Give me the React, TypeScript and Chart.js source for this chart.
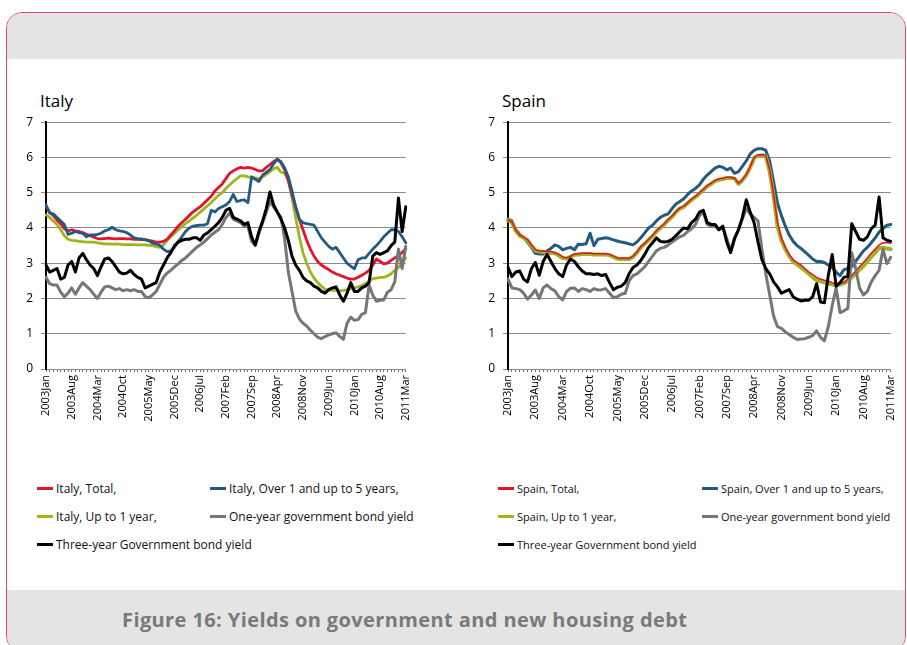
import React, { useEffect, useRef } from "react";
import { Chart, registerables } from "chart.js";

Chart.register(...registerables);

// ---------- categories ----------
const MONTH_NAMES = ["Jan", "Feb", "Mar", "Apr", "May", "Jun", "Jul", "Aug", "Sep", "Oct", "Nov", "Dec"];
const START_YEAR = 2003;
const MONTH_COUNT = 99; // 2003Jan .. 2011Mar
const categories: string[] = Array.from(
  { length: MONTH_COUNT },
  (_, i) => `${START_YEAR + Math.floor(i / 12)}${MONTH_NAMES[i % 12]}`
);
const LABEL_STEP = 7;
const Y_MIN = 0;
const Y_MAX = 7;
const Y_STEP = 1;

// ---------- Italy ----------
const italyTotal = [
  4.6, 4.45, 4.35, 4.22, 4.12, 3.98, 3.92, 3.95, 3.92, 3.9,
  3.87, 3.82, 3.78, 3.74, 3.7, 3.69, 3.7, 3.71, 3.7, 3.69,
  3.7, 3.7, 3.69, 3.69, 3.68, 3.68, 3.67, 3.67, 3.65, 3.63,
  3.6, 3.6, 3.62, 3.68, 3.8, 3.92, 4.05, 4.15, 4.25, 4.35,
  4.45, 4.53, 4.6, 4.7, 4.8, 4.9, 5.05, 5.15, 5.25, 5.4,
  5.55, 5.62, 5.68, 5.72, 5.7, 5.72, 5.7, 5.66, 5.62, 5.62,
  5.72, 5.8, 5.88, 5.95, 5.85, 5.65, 5.35, 4.95, 4.6, 4.25,
  3.95, 3.65, 3.4, 3.2, 3.05, 2.95, 2.88, 2.82, 2.75, 2.7,
  2.66, 2.62, 2.58, 2.55, 2.55, 2.6, 2.66, 2.72, 2.8, 2.95,
  3.12, 3.05, 2.98, 3.0, 3.08, 3.15, 3.22, 3.3, 3.42,
];
const italyOver1 = [
  4.65, 4.42, 4.4, 4.3, 4.2, 4.1, 3.82, 3.85, 3.9, 3.87,
  3.85, 3.75, 3.8, 3.8, 3.82, 3.85, 3.92, 3.95, 4.02, 3.95,
  3.92, 3.9, 3.87, 3.8, 3.72, 3.7, 3.69, 3.66, 3.64, 3.57,
  3.55, 3.5, 3.4, 3.33, 3.35, 3.45, 3.62, 3.75, 3.9, 4.0,
  4.05, 4.07, 4.08, 4.08, 4.12, 4.5, 4.45, 4.55, 4.6, 4.65,
  4.75, 4.95, 4.75, 4.78, 4.8, 4.72, 5.45, 5.38, 5.32, 5.5,
  5.58, 5.66, 5.82, 5.95, 5.88, 5.7, 5.45, 5.05, 4.6, 4.25,
  4.15, 4.12, 4.1, 4.08, 3.9, 3.72, 3.6, 3.48, 3.4, 3.45,
  3.3, 3.15, 3.0, 2.92, 2.84, 3.1, 3.15, 3.15, 3.28, 3.4,
  3.5, 3.62, 3.75, 3.85, 3.95, 3.95, 3.9, 3.75, 3.58,
];
const italyUpTo1 = [
  4.37, 4.3, 4.2, 4.1, 3.95, 3.78, 3.68, 3.65, 3.64, 3.62,
  3.61, 3.6, 3.6, 3.6, 3.58, 3.56, 3.55, 3.55, 3.54, 3.55,
  3.54, 3.53, 3.53, 3.53, 3.53, 3.52, 3.52, 3.52, 3.51, 3.5,
  3.47, 3.45, 3.52, 3.65, 3.75, 3.85, 3.95, 4.03, 4.12, 4.2,
  4.28, 4.36, 4.45, 4.54, 4.63, 4.72, 4.83, 4.93, 5.0, 5.12,
  5.22, 5.32, 5.4, 5.48, 5.48, 5.45, 5.44, 5.42, 5.4, 5.45,
  5.52, 5.6, 5.68, 5.72, 5.58, 5.55, 5.35, 4.85, 4.3, 3.75,
  3.3, 3.0, 2.75, 2.58, 2.45, 2.35, 2.26, 2.24, 2.23, 2.23,
  2.22, 2.23, 2.25, 2.28, 2.3, 2.33, 2.37, 2.42, 2.5, 2.56,
  2.58, 2.6, 2.6, 2.64, 2.7, 2.8, 2.88, 3.0, 3.15,
];
const italyOneYear = [
  2.6, 2.42, 2.38, 2.38, 2.18, 2.05, 2.15, 2.3, 2.12, 2.3,
  2.45, 2.35, 2.25, 2.12, 2.0, 2.18, 2.33, 2.35, 2.3, 2.25,
  2.28, 2.22, 2.25, 2.22, 2.25, 2.2, 2.2, 2.05, 2.02, 2.1,
  2.2, 2.4, 2.6, 2.72, 2.8, 2.9, 2.98, 3.08, 3.15, 3.25,
  3.35, 3.45, 3.52, 3.6, 3.7, 3.8, 3.88, 3.95, 4.1, 4.3,
  4.42, 4.25, 4.2, 4.15, 4.05, 4.05, 3.62, 3.5, 3.85, 4.15,
  4.45, 4.75, 4.6, 4.45, 4.3, 3.7, 2.75, 2.2, 1.65, 1.42,
  1.3, 1.22, 1.1, 1.0, 0.9, 0.86, 0.92, 0.97, 1.0, 1.03,
  0.92, 0.84, 1.3, 1.47, 1.38, 1.4, 1.55, 1.6, 2.38, 2.1,
  1.92, 1.95, 1.96, 2.18, 2.25, 2.47, 3.4, 2.85, 3.48,
];
const italyThreeYear = [
  2.95, 2.75, 2.8, 2.85, 2.55, 2.6, 2.95, 3.05, 2.75, 3.15,
  3.28, 3.1, 2.95, 2.85, 2.65, 2.9, 3.12, 3.15, 3.05, 2.9,
  2.75, 2.7, 2.72, 2.8, 2.68, 2.6, 2.55, 2.3, 2.35, 2.4,
  2.45, 2.75, 2.95, 3.15, 3.3, 3.5, 3.6, 3.65, 3.68, 3.68,
  3.72, 3.72, 3.65, 3.8, 3.86, 3.95, 4.05, 4.15, 4.3, 4.5,
  4.56, 4.3, 4.25, 4.2, 4.1, 4.15, 3.75, 3.52, 3.9, 4.2,
  4.55, 5.02, 4.65, 4.45, 4.25, 4.0, 3.65, 3.2, 2.95, 2.8,
  2.6, 2.5, 2.45, 2.35, 2.3, 2.2, 2.15, 2.25, 2.3, 2.33,
  2.1, 1.92, 2.15, 2.45, 2.2, 2.2, 2.3, 2.35, 2.45, 3.2,
  3.3, 3.25, 3.3, 3.35, 3.5, 3.6, 4.85, 3.9, 4.6,
];

// ---------- Spain ----------
const spainTotal = [
  4.22, 4.17, 3.94, 3.8, 3.74, 3.67, 3.52, 3.38, 3.35, 3.35,
  3.33, 3.33, 3.3, 3.25, 3.18, 3.15, 3.2, 3.26, 3.27, 3.28,
  3.28, 3.28, 3.27, 3.27, 3.27, 3.27, 3.25, 3.2, 3.15, 3.14,
  3.14, 3.14, 3.2, 3.32, 3.47, 3.57, 3.68, 3.79, 3.92, 4.02,
  4.12, 4.24, 4.34, 4.47, 4.57, 4.62, 4.72, 4.82, 4.9, 5.0,
  5.1, 5.2, 5.27, 5.35, 5.39, 5.41, 5.44, 5.44, 5.42, 5.27,
  5.37, 5.52, 5.74, 6.0, 6.07, 6.08, 6.06, 5.65, 4.95, 4.15,
  3.72, 3.45, 3.25, 3.1, 3.02, 2.95, 2.85, 2.75, 2.68, 2.6,
  2.55, 2.52, 2.5, 2.45, 2.42, 2.42, 2.45, 2.55, 2.65, 2.78,
  2.9, 3.02, 3.15, 3.28, 3.4, 3.52, 3.58, 3.58, 3.57,
];
const spainOver1 = [
  4.25, 4.2, 3.95, 3.82, 3.72, 3.6, 3.45, 3.28, 3.26, 3.26,
  3.35, 3.42, 3.52, 3.48, 3.38, 3.42, 3.45, 3.38, 3.54, 3.53,
  3.55, 3.85, 3.5, 3.68, 3.7, 3.72, 3.7, 3.66, 3.63, 3.6,
  3.58, 3.55, 3.52, 3.6, 3.72, 3.86, 4.0, 4.08, 4.2, 4.3,
  4.36, 4.4, 4.55, 4.68, 4.75, 4.83, 4.95, 5.05, 5.12, 5.22,
  5.38, 5.5, 5.6, 5.7, 5.75, 5.72, 5.65, 5.7, 5.55, 5.6,
  5.75, 5.9, 6.1, 6.2, 6.25, 6.25, 6.2, 5.9, 5.3, 4.7,
  4.35, 4.05, 3.8, 3.62, 3.5, 3.42, 3.32, 3.22, 3.12, 3.05,
  3.05, 3.02, 2.95, 2.88, 2.75, 2.65, 2.82, 2.85, 2.9, 3.05,
  3.2, 3.35, 3.45, 3.58, 3.72, 3.88, 3.98, 4.08, 4.1,
];
const spainUpTo1 = [
  4.22, 4.15, 3.92, 3.78, 3.72, 3.65, 3.5, 3.36, 3.33, 3.32,
  3.3, 3.3, 3.28, 3.22, 3.15, 3.13, 3.18, 3.24, 3.25, 3.26,
  3.26, 3.26, 3.25, 3.25, 3.25, 3.25, 3.23, 3.18, 3.13, 3.12,
  3.12, 3.12, 3.18, 3.3, 3.45, 3.55, 3.66, 3.77, 3.9, 4.0,
  4.1, 4.22, 4.32, 4.45, 4.55, 4.6, 4.7, 4.8, 4.88, 4.98,
  5.08, 5.18, 5.25, 5.33, 5.37, 5.39, 5.42, 5.42, 5.4, 5.25,
  5.35, 5.5, 5.72, 5.98, 6.05, 6.06, 6.04, 5.6, 4.9, 4.05,
  3.65, 3.4, 3.2, 3.05, 2.97, 2.88, 2.8, 2.7, 2.6, 2.52,
  2.49, 2.46, 2.43, 2.4, 2.37, 2.4, 2.43, 2.5, 2.6, 2.7,
  2.82, 2.92, 3.05, 3.18, 3.3, 3.43, 3.44, 3.42, 3.4,
];
const spainOneYear = [
  2.55, 2.3, 2.28, 2.25, 2.15, 1.98, 2.1, 2.24, 2.0, 2.3,
  2.38, 2.28, 2.22, 2.05, 1.96, 2.2, 2.29, 2.3, 2.2, 2.28,
  2.25, 2.2, 2.28, 2.24, 2.25, 2.28, 2.15, 2.02, 2.05, 2.12,
  2.15, 2.5, 2.65, 2.7, 2.8, 2.9, 3.05, 3.2, 3.35, 3.42,
  3.45, 3.52, 3.6, 3.68, 3.75, 3.8, 3.9, 3.98, 4.1, 4.35,
  4.45, 4.1, 4.05, 4.05, 3.95, 4.0, 3.7, 3.35, 3.72, 3.95,
  4.25, 4.55, 4.4, 4.3, 4.2, 3.4, 2.7, 2.1, 1.5, 1.2,
  1.15, 1.05, 0.98, 0.9, 0.84, 0.85, 0.86, 0.9, 0.95, 1.08,
  0.9, 0.8, 1.2, 1.8, 2.3, 1.6, 1.65, 1.72, 3.3, 2.85,
  2.3, 2.1, 2.2, 2.47, 2.65, 2.8, 3.4, 2.99, 3.17,
];
const spainThreeYear = [
  2.88, 2.62, 2.75, 2.78, 2.55, 2.47, 2.85, 3.02, 2.66, 3.05,
  3.25, 3.05, 2.85, 2.7, 2.62, 2.95, 3.12, 3.05, 2.9, 2.78,
  2.7, 2.7, 2.68, 2.7, 2.65, 2.68, 2.45, 2.25, 2.32, 2.35,
  2.45, 2.7, 2.88, 2.95, 3.08, 3.25, 3.45, 3.58, 3.72, 3.62,
  3.6, 3.62, 3.68, 3.78, 3.9, 4.0, 3.98, 4.15, 4.25, 4.45,
  4.5, 4.15, 4.1, 4.1, 3.95, 4.05, 3.6, 3.3, 3.7, 3.95,
  4.3, 4.8, 4.45, 4.15, 3.6, 3.1, 2.85, 2.7, 2.47, 2.33,
  2.15, 2.2, 2.25, 2.05, 1.98, 1.93, 1.95, 1.95, 2.05, 2.42,
  1.9, 1.88, 2.65, 3.25, 2.35, 2.45, 2.6, 2.62, 4.12, 3.9,
  3.68, 3.65, 3.75, 3.98, 4.08, 4.88, 3.72, 3.65, 3.62,
];

// ---------- styling ----------
const RED = "#e3122d";
const BLUE = "#235a82";
const GREEN = "#a0b41e";
const GRAY = "#767676";
const BLACK = "#000000";
const FONT = "'Open Sans', 'DejaVu Sans', sans-serif";

type Spec = { label: string; data: number[]; color: string; width: number; order: number };

const italySpecs: Spec[] = [
  { label: "Italy, Total,", data: italyTotal, color: RED, width: 2.8, order: 3 },
  { label: "Italy, Over 1 and up to 5 years,", data: italyOver1, color: BLUE, width: 2.8, order: 2 },
  { label: "Italy, Up to 1 year,", data: italyUpTo1, color: GREEN, width: 2.8, order: 4 },
  { label: "One-year government bond yield", data: italyOneYear, color: GRAY, width: 3, order: 1 },
  { label: "Three-year Government bond yield", data: italyThreeYear, color: BLACK, width: 3, order: 0 },
];

const spainSpecs: Spec[] = [
  { label: "Spain, Total,", data: spainTotal, color: RED, width: 1.5, order: 2 },
  { label: "Spain, Over 1 and up to 5 years,", data: spainOver1, color: BLUE, width: 3, order: 4 },
  { label: "Spain, Up to 1 year,", data: spainUpTo1, color: GREEN, width: 4, order: 3 },
  { label: "One-year government bond yield", data: spainOneYear, color: GRAY, width: 3, order: 1 },
  { label: "Three-year Government bond yield", data: spainThreeYear, color: BLACK, width: 3, order: 0 },
];

type PanelProps = {
  specs: Spec[];
  left: number;
  top: number;
  width: number;
  height: number;
  padRight: number;
};

function PanelChart({ specs, left, top, width, height, padRight }: PanelProps) {
  const ref = useRef<HTMLCanvasElement | null>(null);
  useEffect(() => {
    if (!ref.current) return;
    const chart = new Chart(ref.current, {
      type: "line",
      data: {
        labels: categories,
        datasets: specs.map((s) => ({
          label: s.label,
          data: s.data,
          borderColor: s.color,
          backgroundColor: s.color,
          borderWidth: s.width,
          order: s.order,
          pointRadius: 0,
          pointHoverRadius: 0,
          tension: 0,
          fill: false,
          borderJoinStyle: "round" as const,
          borderCapStyle: "round" as const,
        })),
      },
      options: {
        animation: false,
        responsive: false,
        maintainAspectRatio: false,
        events: [],
        layout: { padding: { left: 6, right: padRight, top: 10, bottom: 0 } },
        plugins: { legend: { display: false }, tooltip: { enabled: false }, title: { display: false } },
        scales: {
          x: {
            type: "category",
            offset: false,
            afterFit: (scale: any) => {
              scale.height = 55;
            },
            grid: {
              display: true,
              drawOnChartArea: false,
              drawTicks: true,
              tickLength: 3,
              color: "#6e6e6e",
              lineWidth: 1,
            },
            border: { display: true, color: "#8a8a8a", width: 1 },
            ticks: {
              autoSkip: false,
              maxRotation: 90,
              minRotation: 90,
              padding: 3,
              color: "#000",
              font: { family: FONT, size: 11 },
              callback: (_v: any, i: number) => (i % LABEL_STEP === 0 ? categories[i] : ""),
            },
          },
          y: {
            min: Y_MIN,
            max: Y_MAX,
            afterFit: (scale: any) => {
              scale.width = 26;
            },
            ticks: {
              stepSize: Y_STEP,
              padding: 8,
              color: "#000",
              font: { family: FONT, size: 12 },
            },
            grid: { color: "#8a8a8a", lineWidth: 1, tickLength: 5, drawTicks: true },
            border: { display: true, color: "#000", width: 2 },
          },
        },
      },
    });
    return () => chart.destroy();
  }, [specs]);
  return (
    <canvas
      ref={ref}
      width={width}
      height={height}
      style={{ position: "absolute", left, top, width, height }}
    />
  );
}

type LegendProps = { specs: Spec[]; left: number; col2: number; top: number; fontSize: number };

function Legend({ specs, left, col2, top, fontSize }: LegendProps) {
  const cells = [
    { s: specs[0], x: left, row: 0 },
    { s: specs[1], x: col2, row: 0 },
    { s: specs[2], x: left, row: 1 },
    { s: specs[3], x: col2, row: 1 },
    { s: specs[4], x: left, row: 2 },
  ];
  return (
    <>
      {cells.map((c, k) => (
        <div
          key={k}
          style={{
            position: "absolute",
            left: c.x,
            top: top + c.row * 28 - 9,
            height: 18,
            display: "flex",
            alignItems: "center",
            whiteSpace: "nowrap",
            fontFamily: FONT,
            fontSize,
            color: "#111",
          }}
        >
          <span style={{ display: "inline-block", width: 16, height: 3, background: c.s.color, marginRight: 3 }} />
          <span>{c.s.label}</span>
        </div>
      ))}
    </>
  );
}

export default function App() {
  return (
    <div
      style={{
        position: "absolute",
        left: 0,
        top: 0,
        width: 907,
        height: 645,
        overflow: "hidden",
        background: "#fff",
      }}
    >
      {/* frame */}
      <div
        style={{
          position: "absolute",
          left: 6,
          top: 12,
          width: 900,
          height: 640,
          border: "1.5px solid #e0465d",
          borderRadius: 16,
          overflow: "hidden",
          boxSizing: "border-box",
          background: "#fff",
        }}
      >
        <div style={{ position: "absolute", left: 0, top: 0, right: 0, height: 46, background: "#e3e4e3" }} />
        <div style={{ position: "absolute", left: 0, top: 577, right: 0, bottom: 0, background: "#e3e4e3" }} />
      </div>

      <div
        style={{
          position: "absolute",
          left: 122,
          top: 606,
          fontFamily: FONT,
          fontWeight: 700,
          fontSize: 20,
          letterSpacing: 0.4,
          color: "#7a7a7a",
          whiteSpace: "nowrap",
        }}
      >
        Figure 16: Yields on government and new housing debt
      </div>

      <div style={{ position: "absolute", left: 40, top: 89, fontFamily: FONT, fontSize: 17, color: "#000" }}>Italy</div>
      <div style={{ position: "absolute", left: 502, top: 89, fontFamily: FONT, fontSize: 17, color: "#000" }}>Spain</div>

      <PanelChart specs={italySpecs} left={14} top={107} width={408} height={317} padRight={10} />
      <PanelChart specs={spainSpecs} left={476} top={107} width={431} height={317} padRight={7} />

      <Legend specs={italySpecs} left={37} col2={210} top={488} fontSize={12} />
      <Legend specs={spainSpecs} left={498} col2={702} top={488} fontSize={11} />
    </div>
  );
}
